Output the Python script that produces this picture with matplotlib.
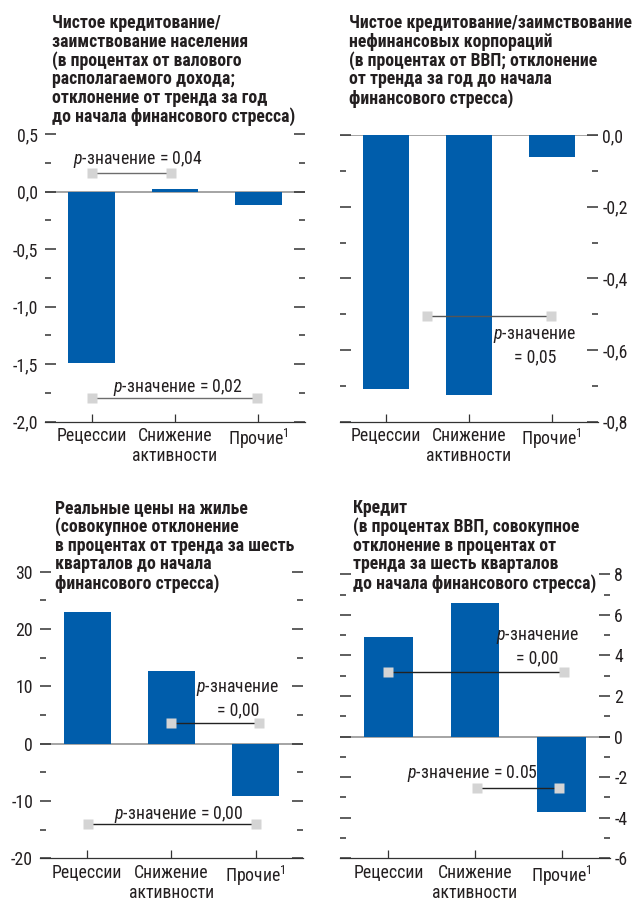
import matplotlib
matplotlib.use("Agg")
import matplotlib.pyplot as plt
from matplotlib.ticker import MultipleLocator, FuncFormatter
from matplotlib import font_manager
from matplotlib.ft2font import FT2Font


def has_cyrillic(path):
    try:
        return FT2Font(path).get_char_index(ord("Ж")) != 0
    except Exception:
        return False


def pick_family(candidates):
    """First condensed family that has Cyrillic glyphs and a bold face."""
    entries = font_manager.fontManager.ttflist
    for name in candidates:
        faces = [f for f in entries if f.name == name]
        regular = [f for f in faces if f.style == "normal" and f.weight < 600]
        bold = [f for f in faces if f.style == "normal" and f.weight >= 600]
        if regular and bold and has_cyrillic(regular[0].fname) and has_cyrillic(bold[0].fname):
            return name, True
    return "Liberation Sans", False


FONT, NARROW = pick_family(["Liberation Sans Narrow", "Roboto Condensed", "PT Sans Narrow",
                            "Arimo Narrow", "Fira Sans Condensed", "IBM Plex Sans Condensed",
                            "Open Sans Condensed", "Archivo Narrow", "Asap Condensed"])
plt.rcParams["font.family"] = [FONT, "DejaVu Sans"]
plt.rcParams["mathtext.fontset"] = "custom"
plt.rcParams["mathtext.rm"] = FONT
plt.rcParams["mathtext.it"] = FONT + ":italic"

TICK_FS = 12.8 if NARROW else 10.5
TITLE_FS = 12.8 if NARROW else 10.8

# ---- data ----
categories = ["Рецессии", "Снижение\nактивности", "Прочие$^1$"]

household_lending = [-1.49, 0.02, -0.12]
corporate_lending = [-0.71, -0.725, -0.06]
house_prices = [23.0, 12.6, -9.2]
credit_gdp = [4.9, 6.6, -3.7]

titles = [
    "Чистое кредитование/\nзаимствование населения\n(в процентах от валового\n"
    "располагаемого дохода;\nотклонение от тренда за год\nдо начала финансового стресса)",
    "Чистое кредитование/заимствование\nнефинансовых корпораций\n(в процентах от ВВП; отклонение\n"
    "от тренда за год до начала\nфинансового стресса)",
    "Реальные цены на жилье\n(совокупное отклонение\nв процентах от тренда за шесть\n"
    "кварталов до начала\nфинансового стресса)",
    "Кредит\n(в процентах ВВП, совокупное\nотклонение в процентах от\n"
    "тренда за шесть кварталов\nдо начала финансового стресса)",
]

# p-value brackets: (x_start, x_end, y, label, label_x, label_y)
pvals_household = [
    (0.0, 0.95, 0.165, "$\\it{p}$-значение = 0,04", 0.55, 0.28),
    (0.0, 1.98, -1.79, "$\\it{p}$-значение = 0,02", 1.04, -1.70),
]
pvals_corporate = [
    (0.49, 1.99, -0.505, "$\\it{p}$-значение\n= 0,05", 1.80, -0.59),
]
pvals_house = [
    (1.0, 2.04, 3.6, "$\\it{p}$-значение\n= 0,00", 1.79, 7.7),
    (0.01, 2.0, -14.1, "$\\it{p}$-значение = 0,00", 1.08, -12.4),
]
pvals_credit = [
    (0.0, 2.03, 3.2, "$\\it{p}$-значение\n= 0,00", 1.72, 4.4),
    (1.02, 1.97, -2.55, "$\\it{p}$-значение = 0.05", 0.97, -1.82),
]

BAR = "#005dab"
TXT = "#231f20"
W, H = 633, 900

fig = plt.figure(figsize=(W / 100, H / 100), dpi=100)


def comma(fmt):
    def f(v, pos):
        if abs(v) < 1e-9:
            v = 0.0
        return (fmt % v).replace(".", ",")
    return FuncFormatter(f)


def panel(px, values, ylim, major, minor, fmt, side, pvals, line_col):
    l, t, r, b = px
    ax = fig.add_axes([l / W, 1 - b / H, (r - l) / W, (b - t) / H])
    x = range(len(values))
    ax.axhline(0, color="#8c8c8c", lw=1.1, zorder=1)
    ax.bar(x, values, width=0.56, color=BAR, zorder=2)
    ax.set_xlim(-0.56, 2.56)
    ax.set_ylim(*ylim)
    for s in ("top", "left", "right"):
        ax.spines[s].set_visible(False)
    ax.spines["bottom"].set_color("#333333")
    ax.spines["bottom"].set_linewidth(0.9)
    ax.set_xticks(list(x))
    ax.set_xticklabels(categories, fontsize=TICK_FS, color=TXT, linespacing=1.12)
    ax.tick_params(axis="x", direction="in", length=6, width=0.9, color="#333333", pad=4)
    ax.yaxis.set_major_locator(MultipleLocator(major))
    ax.yaxis.set_minor_locator(MultipleLocator(minor))
    ax.yaxis.set_major_formatter(comma(fmt))
    ax.tick_params(axis="y", which="major", direction="in", length=8, width=1.1,
                   color="#333333", left=True, right=True, labelsize=TICK_FS,
                   labelcolor=TXT, labelleft=(side == "left"), labelright=(side == "right"),
                   pad=5 if side == "left" else 3)
    ax.tick_params(axis="y", which="minor", direction="in", length=4, width=1.1,
                   color="#333333", left=True, right=True)
    for x0, x1, y, lab, lx, ly in pvals:
        ax.plot([x0, x1], [y, y], color=line_col, lw=1.0, zorder=3)
        ax.plot([x0, x1], [y, y], ls="none", marker="s", ms=7.5, color="#d4d4d4",
                mec="none", zorder=4)
        ax.text(lx, ly, lab, ha="center", va="center", fontsize=TICK_FS, color=TXT,
                linespacing=1.25, zorder=5)
    return ax


panel((45, 134, 305, 421.7), household_lending, (-2.0, 0.5), 0.5, 0.25, "%.1f",
      "left", pvals_household, "#6d6d6d")
panel((340, 135, 598, 421.7), corporate_lending, (-0.8, 0.0), 0.2, 0.1, "%.1f",
      "right", pvals_corporate, "#555555")
panel((40, 571.7, 303, 858.3), house_prices, (-20, 30), 10, 5, "%.0f",
      "left", pvals_house, "#222222")
panel((340, 574.3, 610, 858.3), credit_gdp, (-6, 8), 2, 1, "%.0f",
      "right", pvals_credit, "#222222")

title_pos = [(52, 14), (349, 14), (55, 499), (353, 499)]
for (tx, ty), ttl in zip(title_pos, titles):
    fig.text(tx / W, 1 - ty / H, ttl, ha="left", va="top", fontsize=TITLE_FS,
             fontweight="bold", color=TXT, linespacing=1.04)

fig.savefig("out.png", dpi=100, facecolor="white")
